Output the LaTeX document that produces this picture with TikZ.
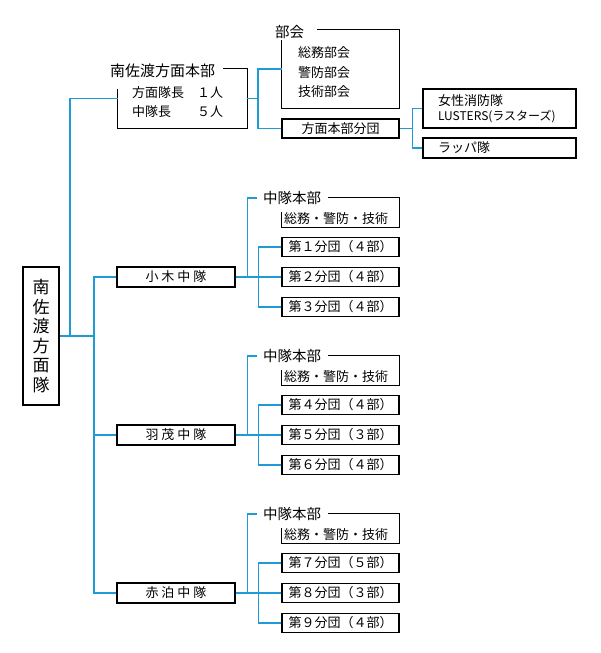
\documentclass[tikz,border=0pt]{standalone}
\usepackage{fontspec}
\setmainfont{Noto Sans CJK JP}
\definecolor{lnblue}{RGB}{30,155,215}
\newcommand\fsz[1]{\fontsize{#1}{#1}\selectfont}
\newcommand\chutaiGroup[6]{%
  \node[box, minimum width=118pt, minimum height=20pt] (#1) at (176,#2) {#3};
  \node[fr, minimum width=117pt, minimum height=29pt] (#1F) at (340.5,{#2-64.5}) {};
  \node[txt, font=\fsz{14.5}] (#1T) at (263,{#2-79}) {中隊本部};
  \node[txt, font=\fsz{13}] (#1S) at (284,{#2-58}) {総務・警防・技術};
  \node[box, minimum width=117pt, minimum height=19pt] (#1a) at (340.5,{#2-30}) {#4};
  \node[box, minimum width=117pt, minimum height=19pt] (#1b) at (340.5,#2) {#5};
  \node[box, minimum width=117pt, minimum height=19pt] (#1c) at (340.5,{#2+30}) {#6};
  \draw[ln] ([xshift=7pt]#1T.east |- #1F.north) -- (#1F.north east) -- (#1F.south east) -- (#1F.south west) -- ([yshift=-14pt]#1F.north west);
  \draw[bl] (#1.east) -- (#1b.west);
  \draw[bl] ([xshift=12pt]#1.east) |- ([xshift=-6pt]#1T.west);
  \draw[bl] ([xshift=23pt]#1.east) |- (#1a.west);
  \draw[bl] ([xshift=23pt]#1.east) |- (#1c.west);
}
\begin{document}
\begin{tikzpicture}[x=1pt,y=-1pt,
  box/.style={draw=black, line width=1.1pt, inner sep=0pt, font=\fsz{13}, align=center},
  fr/.style={draw=none, inner sep=0pt},
  txt/.style={inner sep=0pt, anchor=west},
  ln/.style={draw=black, line width=1.1pt},
  bl/.style={draw=lnblue, line width=1.8pt}]
\fill[white] (0,0) rectangle (600,653);
\useasboundingbox (0,0) rectangle (600,653);

% main unit
\node[box, minimum width=36pt, minimum height=138pt, font=\fontsize{17}{19.6}\selectfont] (hq) at (41,336) {南\\佐\\渡\\方\\面\\隊};

% 南佐渡方面本部
\node[fr, minimum width=129pt, minimum height=59pt] (hbF) at (182.5,98.5) {};
\node[txt, font=\fsz{15}] (hbT) at (110,71) {南佐渡方面本部};
\node[txt, font=\fontsize{13}{19}\selectfont, align=left] (hbI) at (132,102.5) {方面隊長　１人\\中隊長　　５人};
\draw[ln] ([xshift=8pt]hbT.east |- hbF.north) -- (hbF.north east) -- (hbF.south east) -- (hbF.south west) -- ([yshift=-20pt]hbF.north west);

% 部会
\node[fr, minimum width=117pt, minimum height=78pt] (bkF) at (340.5,69) {};
\node[txt, font=\fsz{14.5}] (bkT) at (275,32) {部会};
\node[txt, font=\fontsize{13}{19.5}\selectfont, align=left] (bkI) at (298,72.5) {総務部会\\警防部会\\技術部会};
\draw[ln] ([xshift=13pt]bkT.east |- bkF.north) -- (bkF.north east) -- (bkF.south east) -- (bkF.south west) -- ([yshift=-10pt]bkF.north west);

% 方面本部分団
\node[box, minimum width=117pt, minimum height=19pt] (bun) at (340.5,128.5) {方面本部分団};
\node[box, minimum height=39pt, text width=123pt, inner xsep=15pt, align=left, font=\fontsize{13}{15}\selectfont] (jos) at (499.5,108.5) {女性消防隊\\{\fsz{12}LUSTERS(ラスターズ)}};
\node[box, minimum height=20pt, text width=123pt, inner xsep=15pt, align=left] (rap) at (499.5,148) {ラッパ隊};

% connectors top
\coordinate (tA) at (70,336);
\coordinate (tB) at (94,336);
\draw[bl] (hq.east) -- (tB);
\draw[bl] (tA) |- (hbF.west);
\draw[bl] (hbF.east) -- ++(11,0) coordinate (j1);
\draw[bl] (j1) |- (bkF.west);
\draw[bl] (j1) |- (bun.west);
\draw[bl] (bun.east) -- ++(13,0) coordinate (j2);
\draw[bl] (j2) |- (jos.west);
\draw[bl] (j2) |- (rap.west);

% 中隊
\chutaiGroup{ogi}{277}{小\hspace{3pt}木\hspace{3pt}中\hspace{3pt}隊}{第１分団（４部）}{第２分団（４部）}{第３分団（４部）}
\chutaiGroup{ham}{435}{羽\hspace{3pt}茂\hspace{3pt}中\hspace{3pt}隊}{第４分団（４部）}{第５分団（３部）}{第６分団（４部）}
\chutaiGroup{aka}{593}{赤\hspace{3pt}泊\hspace{3pt}中\hspace{3pt}隊}{第７分団（５部）}{第８分団（３部）}{第９分団（４部）}

\draw[bl] (tB) |- (ogi.west);
\draw[bl] (tB) |- (ham.west);
\draw[bl] (tB) |- (aka.west);
\end{tikzpicture}
\end{document}
